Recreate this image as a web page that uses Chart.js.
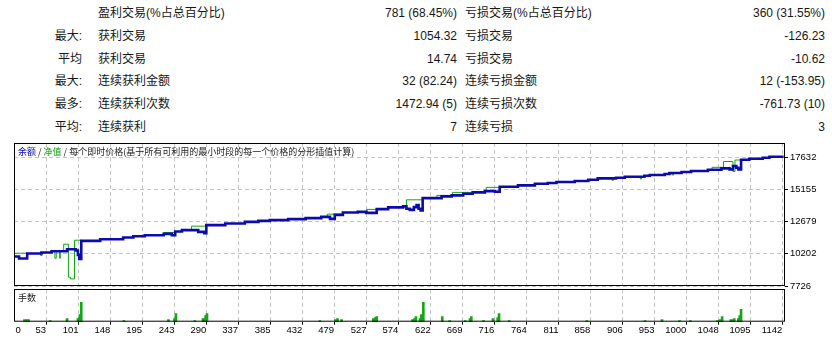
<!DOCTYPE html>
<html>
<head>
<meta charset="utf-8">
<script src="https://cdn.jsdelivr.net/npm/chart.js@4"></script>
<style>
  body { margin: 0; background: #fff; }
  #marco { position: relative; width: 832px; height: 340px; overflow: hidden; background: #fff;
           font-family: "Liberation Sans", "Noto Sans CJK SC", sans-serif; color: #161616; }
  .celda { position: absolute; font-size: 12px; line-height: 16px; white-space: nowrap; }
  .der { text-align: right; }
  canvas { position: absolute; left: 0; }
  #graficaPrincipal { top: 128px; z-index: 2; }
  #graficaLotes { top: 286px; z-index: 1; }
  .rotulo { position: absolute; z-index: 3; font-family: "Noto Sans CJK SC", sans-serif; font-size: 9px;
            line-height: 11px; color: #202020; white-space: nowrap; }
</style>
</head>
<body>
<div id="marco">
  <canvas id="graficaPrincipal" width="832" height="172"></canvas>
  <canvas id="graficaLotes" width="832" height="54"></canvas>
  <div class="rotulo" style="left:18px; top:146px;"><span style="color:#0000c0">余额</span> / <span style="color:#00a000">净值</span> / 每个即时价格(基于所有可利用的最小时段的每一个价格的分形插值计算)</div>
  <div class="rotulo" style="left:18px; top:292px;">手数</div>
</div>
<script>
// Tabla de resultados
const filaPrefijo   = ["", "最大:", "平均", "最大:", "最多:", "平均:"];
const filaGanancia  = ["盈利交易(%占总百分比)", "获利交易", "获利交易", "连续获利金额", "连续获利次数", "连续获利"];
const valorGanancia = ["781 (68.45%)", "1054.32", "14.74", "32 (82.24)", "1472.94 (5)", "7"];
const filaPerdida   = ["亏损交易(%占总百分比)", "亏损交易", "亏损交易", "连续亏损金额", "连续亏损次数", "连续亏损"];
const valorPerdida  = ["360 (31.55%)", "-126.23", "-10.62", "12 (-153.95)", "-761.73 (10)", "3"];

// Etiquetas de los ejes
const xTickLabels = [0, 53, 101, 148, 195, 243, 290, 337, 385, 432, 479, 527, 574, 622, 669, 716, 764, 811, 858, 906, 953, 1000, 1048, 1095, 1142];
const yTickLabels = [7726, 10202, 12679, 15155, 17632];

// 余额 (balance): numero de operacion y valor
const balanceTrades = [6, 13, 25, 46, 61, 84, 97, 100, 102, 105, 133, 167, 182, 199, 227, 239, 244, 254, 278, 287,
  290, 318, 347, 367, 384, 411, 437, 460, 473, 480, 492, 514, 527, 542, 559, 581, 586, 591, 597, 601,
  604, 607, 610, 638, 653, 670, 684, 702, 717, 724, 751, 776, 795, 808, 835, 855, 869, 896, 909, 938,
  946, 968, 975, 993, 1007, 1032, 1052, 1064, 1069, 1074, 1077, 1081, 1093, 1113, 1123, 1144];
const balanceValues = [9994, 9840, 10226, 10303, 10403, 10557, 10457, 10118, 9809, 11198, 11329, 11460, 11560, 11638, 11738, 11638, 11923, 12023, 11892, 11792,
  12409, 12540, 12664, 12741, 12795, 12872, 12949, 13049, 12895, 13204, 13389, 13435, 13358, 13643, 13775, 13852, 13667, 13589, 13798, 13952,
  13667, 13543, 14492, 14623, 14700, 14824, 14932, 15032, 14978, 15364, 15472, 15595, 15649, 15726, 15804, 15904, 16012, 16058, 16135, 16213,
  16266, 16344, 16421, 16498, 16575, 16675, 16783, 16706, 16961, 16830, 16706, 17447, 17524, 17601, 17678, 17678];

// 净值 (equity): solo los tramos donde se separa del balance (null = corte)
const equityTrades = [6, 25, 25, 44, 45, 47, 47, 65, 66, 68, 72, 73, 74, 79, 86, 89, 95, 105, 105,
  226, 227, 244, 244, 267, 268, 290, 290, 468, 469, 492, 492, 524, 525, 527, 542, 542,
  585, 586, 610, 610, 630, 631, 654, 684, 684, 703, 704, 724, 724,
  889, 890, 892, 892, 931, 932, 934, 934, 978, 979, 981, 981,
  1037, 1038, 1055, 1069, 1072, 1081];
const equityValues = [10249, 10249, null, 10303, 10071, 10303, null, 10403, 9863, 10403, 10403, 9863, 10403, 10943, 8400, 8270, 11252, 11198, null,
  11738, 11846, 11923, null, 12023, 12330, 12409, null, 13049, 13258, 13389, null, 13435, 13312, 13620, 13643, null,
  13852, 14361, 14492, null, 14492, 14700, 14932, 14932, null, 15032, 15318, 15364, null,
  16012, 15860, 16012, null, 16135, 15960, 16135, null, 16421, 16270, 16421, null,
  16675, 16861, 17308, 16537, 17424, 17447];

// 手数 (lotes por operacion)
const volumeTrades = [21, 24, 27, 59, 84, 100, 102, 103, 105, 168, 234, 243, 245, 273, 285, 287, 289, 291, 458, 481,
  484, 490, 537, 540, 542, 595, 598, 600, 606, 608, 611, 639, 650, 673, 680, 682, 700, 714, 721, 723,
  738, 853, 939, 964, 990, 1006, 1046, 1050, 1053, 1066, 1069, 1071, 1077, 1079, 1081];
const volumeLots = [0.2, 0.2, 0.2, 0.1, 0.3, 0.3, 0.4, 0.7, 1.9, 0.1, 0.2, 0.3, 0.8, 0.1, 0.3, 0.3, 0.6, 0.8, 0.1, 0.2,
  0.3, 0.2, 0.3, 0.4, 0.5, 0.2, 0.3, 0.5, 0.3, 0.7, 1.9, 0.5, 0.1, 0.1, 0.3, 0.5, 0.1, 0.3, 0.4, 0.8,
  0.1, 0.1, 0.1, 0.2, 0.1, 0.1, 0.1, 0.2, 0.5, 0.2, 0.2, 0.3, 0.3, 0.6, 1.2];

window.onload = function () {

    const xMin = 5.5, xMax = 1146;
    const colorRejilla = '#c4c4c4';

    /**
     * cargarDatosEjesXeY: junta los arrays X e Y en puntos {x, y}
     */
    function cargarDatosEjesXeY(arrY, arrX) {
        let datos = [];
        for (let i = 0; i < arrX.length; i++) {
            datos.push({x: arrX[i], y: arrY[i]});
        }
        return datos;
    }

    /**
     * cargarTabla: escribe las filas de la tabla de arriba
     */
    function cargarTabla() {
        const marco = document.getElementById("marco");
        const celda = (texto, estilo, clase) => {
            let d = document.createElement("div");
            d.className = "celda" + (clase ? " " + clase : "");
            d.style.cssText = estilo;
            d.textContent = texto;
            marco.appendChild(d);
        };
        for (let i = 0; i < filaGanancia.length; i++) {
            let top = Math.round(13.3 + 22.7 * i - 8);
            celda(filaPrefijo[i], "left:0; width:82px; top:" + top + "px;", "der");
            celda(filaGanancia[i], "left:98px; top:" + top + "px;");
            celda(valorGanancia[i], "left:300px; width:157px; top:" + top + "px;", "der");
            celda(filaPerdida[i], "left:465px; top:" + top + "px;");
            celda(valorPerdida[i], "left:600px; width:225px; top:" + top + "px;", "der");
        }
    }

    // Ticks del eje X: el "0" se deja un poco a la derecha del borde
    function ticksEjeX(scale) {
        scale.ticks = xTickLabels.map((v, i) => ({value: i === 0 ? xMin + 10 : v}));
    }
    const ocultarPrimero = (color) => (c) => c.index === 0 ? 'rgba(0,0,0,0)' : color;

    // Marco negro alrededor del area de dibujo
    const marcoNegro = {
        id: 'marcoNegro',
        afterDatasetsDraw(chart) {
            const a = chart.chartArea, ctx = chart.ctx;
            ctx.save();
            ctx.strokeStyle = '#000';
            ctx.lineWidth = 1;
            ctx.strokeRect(a.left + 0.5, a.top + 0.5, a.right - a.left - 1, a.bottom - a.top - 1);
            ctx.restore();
        }
    };

    /**
     * cargarGraficaPrincipal: balance y equity
     */
    function cargarGraficaPrincipal() {
        new Chart(document.getElementById("graficaPrincipal"), {
            type: 'line',
            data: {
                datasets: [{
                    label: "余额",
                    data: cargarDatosEjesXeY(balanceValues, balanceTrades),
                    borderColor: '#0a0aad',
                    borderWidth: 2.6,
                    stepped: 'before',
                    pointRadius: 0
                }, {
                    label: "净值",
                    data: cargarDatosEjesXeY(equityValues, equityTrades),
                    borderColor: '#14a514',
                    borderWidth: 1,
                    stepped: 'before',
                    pointRadius: 0,
                    spanGaps: false
                }]
            },
            options: {
                responsive: false,
                animation: false,
                layout: {padding: {left: 14, top: 15, bottom: 14, right: 0}},
                plugins: {legend: {display: false}, tooltip: {enabled: false}},
                scales: {
                    x: {
                        type: 'linear', min: xMin, max: xMax,
                        afterBuildTicks: ticksEjeX,
                        ticks: {display: false},
                        grid: {color: ocultarPrimero(colorRejilla), drawTicks: false},
                        border: {display: false, dash: [4, 3]}
                    },
                    y: {
                        position: 'right', min: 7726, max: 18733,
                        afterBuildTicks: (s) => { s.ticks = yTickLabels.map(v => ({value: v})); },
                        afterFit: (s) => { s.width = 47; },
                        ticks: {
                            color: '#000', padding: 2,
                            font: {family: 'Liberation Sans', size: 9.5},
                            callback: (v) => String(v)
                        },
                        grid: {color: colorRejilla, tickColor: '#000', tickLength: 3},
                        border: {display: false, dash: [4, 3]}
                    }
                }
            },
            plugins: [marcoNegro]
        });
    }

    /**
     * cargarGraficaLotes: barras de volumen con el eje de operaciones
     */
    function cargarGraficaLotes() {
        new Chart(document.getElementById("graficaLotes"), {
            type: 'bar',
            data: {
                datasets: [{
                    label: "手数",
                    data: cargarDatosEjesXeY(volumeLots, volumeTrades),
                    backgroundColor: '#12a812',
                    borderWidth: 0,
                    barThickness: 2
                }]
            },
            options: {
                responsive: false,
                animation: false,
                layout: {padding: {left: 14, top: 3, bottom: 0, right: 47}},
                plugins: {legend: {display: false}, tooltip: {enabled: false}},
                scales: {
                    x: {
                        type: 'linear', min: xMin, max: xMax, offset: false,
                        afterBuildTicks: ticksEjeX,
                        afterFit: (s) => { s.height = 18.3; },
                        ticks: {
                            color: '#000', padding: 0, align: 'end', autoSkip: false, maxRotation: 0,
                            font: {family: 'Liberation Sans', size: 9.5},
                            callback: (v, i) => String(xTickLabels[i])
                        },
                        grid: {color: ocultarPrimero(colorRejilla), tickColor: ocultarPrimero('#000'), tickLength: 3, offset: false},
                        border: {display: false, dash: [4, 3]}
                    },
                    y: {display: false, min: 0, max: 3.2}
                }
            },
            plugins: [marcoNegro]
        });
    }

    cargarTabla();
    cargarGraficaPrincipal();
    cargarGraficaLotes();
}
</script>
</body>
</html>
